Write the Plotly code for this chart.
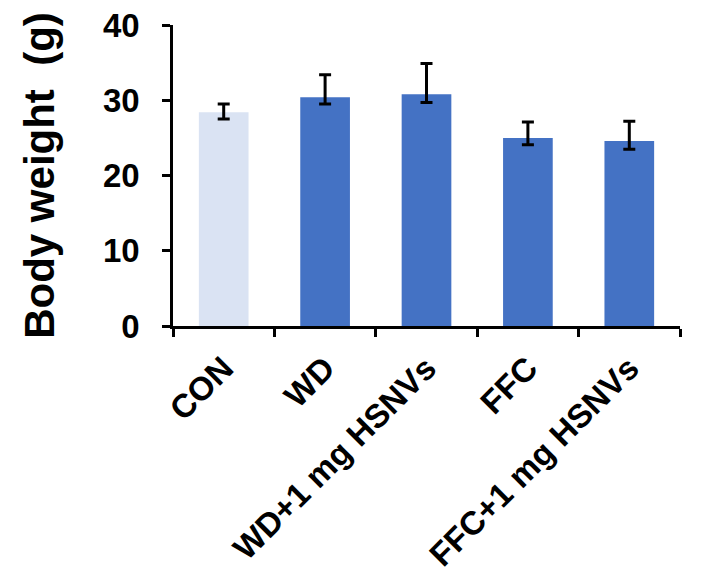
import plotly.graph_objects as go

categories = ["CON", "WD", "WD+1 mg HSNVs", "FFC", "FFC+1 mg HSNVs"]
body_weight = [28.4, 30.4, 30.8, 25.0, 24.6]
err_plus = [1.1, 3.0, 4.1, 2.1, 2.6]
err_minus = [0.9, 0.9, 1.1, 0.9, 1.1]
bar_colors = ["#DAE3F3", "#4472C4", "#4472C4", "#4472C4", "#4472C4"]
y_ticks = [0, 10, 20, 30, 40]

FONT = "Arial, Liberation Sans, sans-serif"

fig = go.Figure(
    go.Bar(
        x=categories,
        y=body_weight,
        marker=dict(color=bar_colors, line=dict(width=0)),
        width=0.49,
        error_y=dict(
            type="data",
            symmetric=False,
            array=err_plus,
            arrayminus=err_minus,
            color="black",
            thickness=3,
            width=6,
        ),
    )
)

fig.update_layout(
    width=705,
    height=584,
    margin=dict(l=173, r=25, t=25, b=258),
    plot_bgcolor="white",
    paper_bgcolor="white",
    showlegend=False,
    font=dict(family=FONT, color="black"),
)

fig.update_xaxes(
    showline=True,
    linecolor="black",
    linewidth=2.5,
    ticks="outside",
    ticklen=8,
    tickwidth=2.5,
    tickcolor="black",
    tickson="boundaries",
    tickangle=-45,
    ticklabelstandoff=7,
    tickfont=dict(family=FONT, size=33, color="black", weight="bold"),
    showgrid=False,
    automargin=False,
)

fig.update_yaxes(
    range=[0, 40],
    tickvals=y_ticks,
    showline=True,
    linecolor="black",
    linewidth=2.5,
    ticks="outside",
    ticklen=8,
    tickwidth=2.5,
    tickcolor="black",
    tickfont=dict(family=FONT, size=33, color="black", weight="bold"),
    ticklabelstandoff=16,
    showgrid=False,
    zeroline=False,
    automargin=False,
    title=dict(
        text="Body weight\u00a0\u00a0(g)",
        font=dict(family=FONT, size=42, color="black", weight="bold"),
        standoff=36,
    ),
)

fig.write_html(
    "out.html",
    config={"displayModeBar": False},
    post_script="document.body.style.margin='0';document.body.style.overflow='hidden';",
)
